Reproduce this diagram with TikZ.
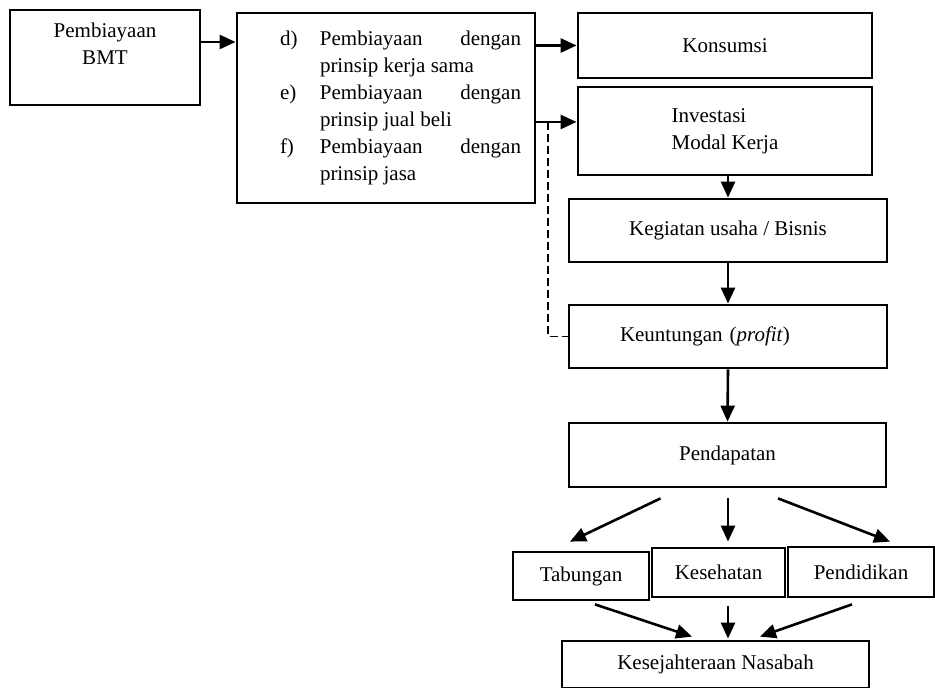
\documentclass[tikz,border=0pt]{standalone}
\usepackage{fontspec}
\setmainfont{Liberation Serif}
\usetikzlibrary{arrows.meta,calc}
\hyphenpenalty=10000
\tolerance=9999
\tikzset{
  box/.style={draw, rectangle, line width=1.4pt, align=center, inner sep=2pt},
  arr/.style={line width=1.3pt, -{Triangle[length=8pt,width=7pt]}},
  back/.style={line width=0.9pt, dash pattern=on 4pt off 2pt},
}
\begin{document}
\begin{tikzpicture}[x=0.5pt,y=-0.5pt,font=\fontsize{10.5}{13.5}\selectfont]
      \clip (0,0) rectangle (935,688);
      \node[box, minimum width=95pt, minimum height=47.5pt] (bmt) at (105,57.5) {Pembiayaan\\BMT\\ \mbox{}};
      \node[box, minimum width=149pt, minimum height=95pt] (mid) at (386,108) {\hspace*{14.5pt}%
        \begin{tabular}{@{}p{20pt}@{}p{100.5pt}@{}}
          d) & Pembiayaan dengan prinsip kerja sama\\
          e) & Pembiayaan dengan prinsip jual beli\\
          f) & Pembiayaan dengan prinsip jasa
        \end{tabular}};
      \node[box, minimum width=147pt, minimum height=32.5pt] (kons) at (725,45.5) {Konsumsi};
      \node[box, align=left, minimum width=147pt, minimum height=44pt] (inv) at (725,131) {Investasi\\Modal Kerja};
      \node[box, minimum width=159pt, minimum height=31.5pt] (keg) at (728,230.5) {Kegiatan usaha / Bisnis};
      \node[box, align=left, inner xsep=25.5pt, text width=108pt, minimum height=31.5pt] (keun) at (728,336.5) {Keuntungan (\textit{profit})};
      \node[box, minimum width=158.5pt, minimum height=32pt] (pend) at (727.5,455) {Pendapatan};
      \node[box, minimum width=68pt, minimum height=24pt] (tab) at (581,576) {Tabungan};
      \node[box, minimum width=66.5pt, minimum height=24.5pt] (kes) at (718.5,572.5) {Kesehatan};
      \node[box, minimum width=73pt, minimum height=25pt] (pdd) at (861,572) {Pendidikan};
      \node[box, minimum width=153.5pt, minimum height=23.5pt] (kese) at (715.5,664.5) {Kesejahteraan Nasabah};
      \coordinate (split) at (548,122);
      \begin{scope}[arr]
        \draw (bmt.east |- 0,42) -- (mid.west |- 0,42);
        \draw (mid.east |- kons.west) -- (kons.west);
        \draw (mid.east |- split) -- (split -| inv.west);
        \draw (inv.south -| keg.north) -- (keg.north);
        \draw (keg.south) -- (keun.north);
        \draw (keun.south) -- (pend.north);
        \draw ($(pend.south)+(-67,10)$) -- ($(tab.north)+(-11,-9)$);
        \draw ($(pend.south)+(0.5,10)$) -- ($(kes.north)+(9.5,-5)$);
        \draw ($(pend.south)+(50.5,10)$) -- ($(pdd.north)+(29,-4)$);
        \draw ($(tab.south)+(14,3)$) -- ($(kese.north)+(-23.5,-3)$);
        \draw ($(kes.south)+(9.5,8)$) -- ($(kese.north)+(12.5,-1)$);
        \draw ($(pdd.south)+(-9,6)$) -- ($(kese.north)+(44.5,-3)$);
      \end{scope}
      \draw[back] (split) -- (split |- keun.west) -- (keun.west);
    \end{tikzpicture}
\end{document}
